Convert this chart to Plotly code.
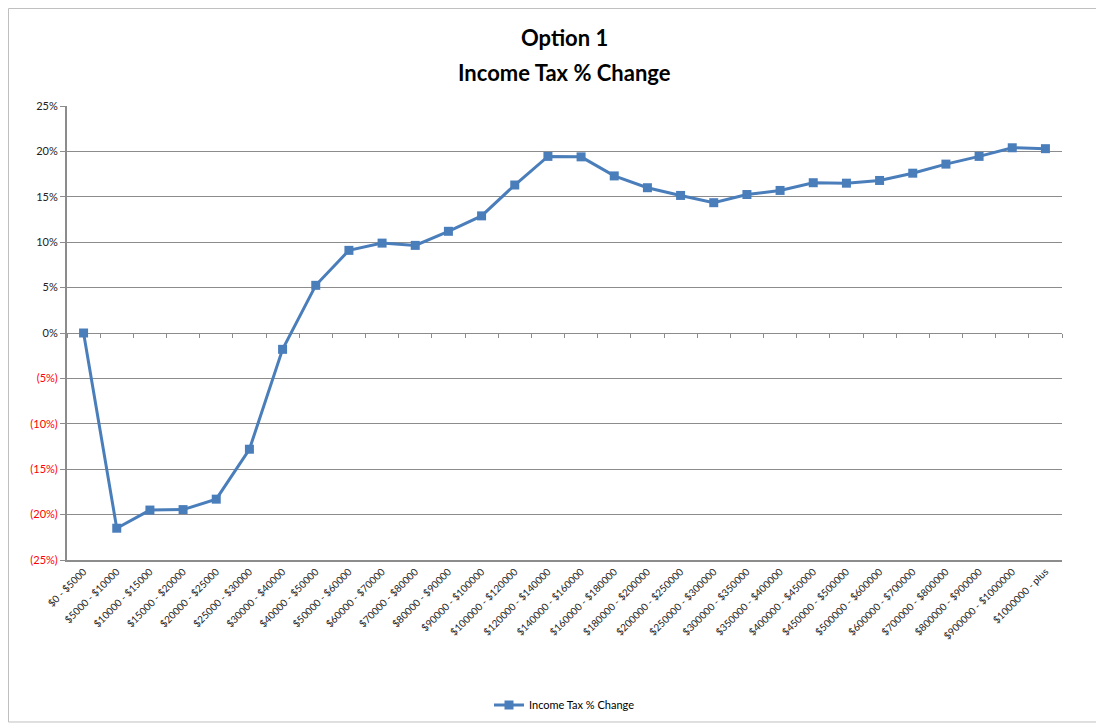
import plotly.graph_objects as go

categories = ["$0 - $5000", "$5000 - $10000", "$10000 - $15000", "$15000 - $20000",
              "$20000 - $25000", "$25000 - $30000", "$30000 - $40000", "$40000 - $50000",
              "$50000 - $60000", "$60000 - $70000", "$70000 - $80000", "$80000 - $90000",
              "$90000 - $100000", "$100000 - $120000", "$120000 - $140000", "$140000 - $160000",
              "$160000 - $180000", "$180000 - $200000", "$200000 - $250000", "$250000 - $300000",
              "$300000 - $350000", "$350000 - $400000", "$400000 - $450000", "$450000 - $500000",
              "$500000 - $600000", "$600000 - $700000", "$700000 - $800000", "$800000 - $900000",
              "$900000 - $1000000", "$1000000 - plus"]
pct_change = [0.0, -21.5, -19.5, -19.45, -18.3, -12.8, -1.8, 5.25, 9.1, 9.9,
              9.65, 11.2, 12.9, 16.3, 19.45, 19.4, 17.3, 16.0, 15.15, 14.35,
              15.25, 15.7, 16.55, 16.5, 16.8, 17.6, 18.6, 19.45, 20.4, 20.3]
tick_vals = [25, 20, 15, 10, 5, 0, -5, -10, -15, -20, -25]
tick_text = ["25%", "20%", "15%", "10%", "5%", "0%",
             "<span style='color:#FF0000'>(5%)</span>",
             "<span style='color:#FF0000'>(10%)</span>",
             "<span style='color:#FF0000'>(15%)</span>",
             "<span style='color:#FF0000'>(20%)</span>",
             "<span style='color:#FF0000'>(25%)</span>"]
title_lines = ["Option 1", "Income Tax % Change"]

FONT = "Lato, 'Open Sans', sans-serif"
BLUE = "#4A7EBB"

fig = go.Figure()
fig.add_trace(go.Scatter(
    x=categories, y=pct_change, mode="lines+markers",
    name="Income Tax % Change",
    line=dict(color=BLUE, width=3),
    marker=dict(symbol="square", size=9, color=BLUE),
))
# invisible trace on overlay axis to carry tick marks at the 0 line
fig.add_trace(go.Scatter(x=categories, y=[None] * len(categories), xaxis="x2",
                         showlegend=False, hoverinfo="skip"))

fig.update_layout(
    width=1104, height=725,
    paper_bgcolor="white", plot_bgcolor="white",
    margin=dict(l=59, r=50, t=98, b=173, autoexpand=False),
    font=dict(family=FONT, color="black"),
    showlegend=True,
    legend=dict(orientation="h", x=0.5, xanchor="center", xref="paper",
                yref="container", y=1 - 697 / 725, yanchor="middle",
                font=dict(size=11), bgcolor="rgba(0,0,0,0)", itemwidth=30),
    xaxis=dict(type="category", tickangle=-45, tickfont=dict(size=10, color="#222"),
               showgrid=False, showline=True, linecolor="#8C8C8C", linewidth=2,
               ticks="", mirror=False, range=[-0.5, len(categories) - 0.5],
               automargin=False),
    xaxis2=dict(type="category", overlaying="x", anchor="free", position=0.5,
                side="bottom", showticklabels=False, showline=False, showgrid=False,
                ticks="outside", ticklen=4, tickcolor="#8C8C8C", tickson="boundaries",
                range=[-0.5, len(categories) - 0.5], matches="x"),
    yaxis=dict(range=[-25, 25], tickvals=tick_vals, ticktext=tick_text,
               tickfont=dict(size=11, color="#222"), showgrid=True,
               gridcolor="#8C8C8C", gridwidth=1, zeroline=False,
               showline=True, linecolor="#8C8C8C", linewidth=2,
               ticks="outside", ticklen=5, tickcolor="#8C8C8C", automargin=False),
    annotations=[
        dict(text="<b>%s</b>" % title_lines[0], xref="paper", yref="paper",
             x=0.5, y=(552 - 30) / 454, xanchor="center", yanchor="middle",
             showarrow=False, font=dict(family=FONT, size=22, color="black")),
        dict(text="<b>%s</b>" % title_lines[1], xref="paper", yref="paper",
             x=0.5, y=(552 - 64) / 454, xanchor="center", yanchor="middle",
             showarrow=False, font=dict(family=FONT, size=22, color="black")),
    ],
    shapes=[dict(type="rect", xref="paper", yref="paper",
                 x0=-0.0588, x1=1.0382, y0=-0.3568, y1=1.2148,
                 line=dict(color="#BFBFBF", width=1), layer="below")],
)

fig.write_html("out.html")
